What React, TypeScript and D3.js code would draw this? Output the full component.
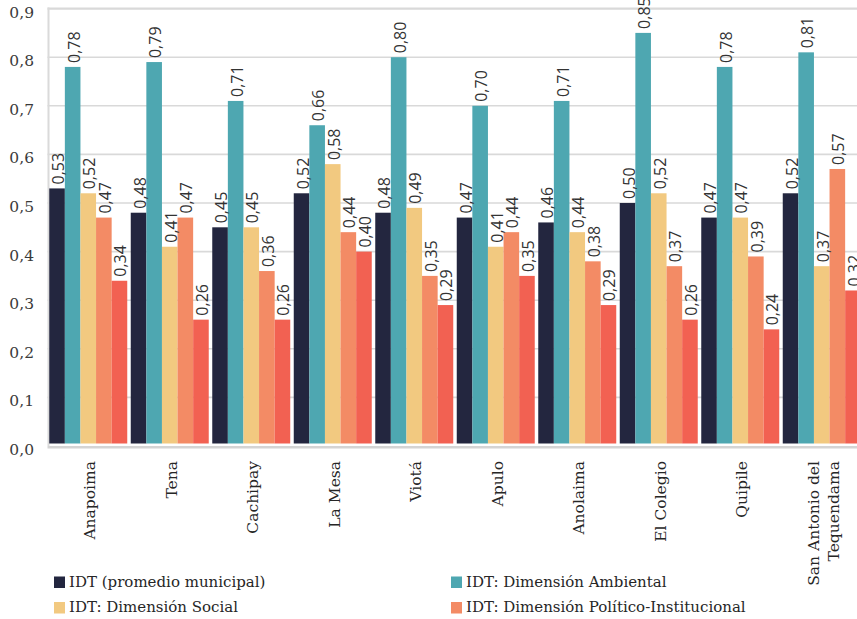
import React from 'react';
import * as d3 from 'd3';

// Municipalities (category axis) and their tick-label lines
const municipios = [
  'Anapoima', 'Tena', 'Cachipay', 'La Mesa', 'Viotá',
  'Apulo', 'Anolaima', 'El Colegio', 'Quipile', 'San Antonio del Tequendama',
];
const municipioLines: string[][] = [
  ['Anapoima'], ['Tena'], ['Cachipay'], ['La Mesa'], ['Viotá'],
  ['Apulo'], ['Anolaima'], ['El Colegio'], ['Quipile'], ['San Antonio del', 'Tequendama'],
];

// Series values
const idtPromedio = [0.53, 0.48, 0.45, 0.52, 0.48, 0.47, 0.46, 0.50, 0.47, 0.52];
const dimAmbiental = [0.78, 0.79, 0.71, 0.66, 0.80, 0.70, 0.71, 0.85, 0.78, 0.81];
const dimSocial = [0.52, 0.41, 0.45, 0.58, 0.49, 0.41, 0.44, 0.52, 0.47, 0.37];
const dimPolitica = [0.47, 0.47, 0.36, 0.44, 0.35, 0.44, 0.38, 0.37, 0.39, 0.57];
const dimEconomica = [0.34, 0.26, 0.26, 0.40, 0.29, 0.35, 0.29, 0.26, 0.24, 0.32];

const seriesNames = [
  'IDT (promedio municipal)',
  'IDT: Dimensión Ambiental',
  'IDT: Dimensión Social',
  'IDT: Dimensión Político-Institucional',
  'IDT: Dimensión Económica',
];
const seriesColors = ['#23263f', '#4ea7b1', '#f2c980', '#f38b65', '#f26152'];
const seriesValues = [idtPromedio, dimAmbiental, dimSocial, dimPolitica, dimEconomica];

// Legend shows the first four series in two columns
const legendSeries = [0, 1, 2, 3];

const yTicks = [0, 0.1, 0.2, 0.3, 0.4, 0.5, 0.6, 0.7, 0.8, 0.9];

const W = 857;
const H = 619;

const serif = '"DejaVu Serif", serif';
const sans = '"Open Sans", "Noto Sans", sans-serif';

export default function App() {
  const plotLeft = 47.5;
  const plotRight = plotLeft + 815;
  const plotTop = 8.6;
  const plotBottom = 446;

  const x = d3
    .scaleBand<string>()
    .domain(municipios)
    .range([plotLeft, plotRight])
    .paddingInner(0.043)
    .paddingOuter(0.0215);

  const xs = d3
    .scaleBand<number>()
    .domain(d3.range(seriesNames.length))
    .range([0, x.bandwidth()]);

  const y = d3.scaleLinear().domain([0, 0.9]).range([plotBottom, plotTop]);

  const fmt = (v: number, p: number) => d3.format(`.${p}f`)(v).replace('.', ',');

  return (
    <svg
      width={W}
      height={H}
      style={{ position: 'absolute', left: 0, top: 0, background: '#fff' }}
    >
      {/* horizontal gridlines */}
      {yTicks.slice(1).map((t) => (
        <line
          key={t}
          x1={plotLeft}
          x2={W}
          y1={y(t)}
          y2={y(t)}
          stroke="#d9d9d9"
          strokeWidth={t === 0.9 ? 2.2 : 1.6}
        />
      ))}
      {/* left frame line */}
      <line x1={plotLeft + 1} x2={plotLeft + 1} y1={y(0.9) - 1} y2={y(0)} stroke="#dadada" strokeWidth={2} />

      {/* y tick labels */}
      {yTicks.map((t) => (
        <text
          key={t}
          x={34}
          y={y(t) + 5}
          textAnchor="end"
          dominantBaseline="middle"
          fontFamily={serif}
          fontSize={15.5}
          fill="#3a3a3a"
        >
          {fmt(t, 1)}
        </text>
      ))}

      {/* bars */}
      {municipios.map((m, i) => (
        <g key={m} transform={`translate(${x(m)},0)`}>
          {seriesValues.map((vals, s) => (
            <rect
              key={s}
              x={xs(s)}
              y={y(vals[i])}
              width={xs.bandwidth()}
              height={y(0) - 2.5 - y(vals[i])}
              fill={seriesColors[s]}
            />
          ))}
        </g>
      ))}

      {/* x axis line */}
      <line x1={plotLeft} x2={W} y1={y(0) + 1.2} y2={y(0) + 1.2} stroke="#d4d4d4" strokeWidth={2.6} />

      {/* value labels */}
      {municipios.map((m, i) => (
        <g key={m} transform={`translate(${x(m)},0)`}>
          {seriesValues.map((vals, s) => {
            const cx = (xs(s) as number) + xs.bandwidth() / 2;
            const ty = y(vals[i]) - 4;
            return (
              <text
                key={s}
                transform={`translate(${cx},${ty}) rotate(-90)`}
                dy="0.44em"
                textAnchor="start"
                fontFamily={sans}
                fontSize={16}
                fill="#333"
              >
                {fmt(vals[i], 2)}
              </text>
            );
          })}
        </g>
      ))}

      {/* category labels */}
      {municipios.map((m, i) => {
        const lines = municipioLines[i];
        const cx = (x(m) as number) + x.bandwidth() / 2;
        return (
          <text
            key={m}
            transform={`translate(${cx},461) rotate(-90)`}
            textAnchor="end"
            fontFamily={serif}
            fontSize={15.5}
            fill="#262626"
          >
            {lines.map((ln, k) => (
              <tspan key={k} x={0} y={7 + (k - (lines.length - 1) / 2) * 19.5}>
                {ln}
              </tspan>
            ))}
          </text>
        );
      })}

      {/* legend */}
      {legendSeries.map((s, k) => {
        const col = k % 2;
        const row = Math.floor(k / 2);
        const lx = col === 0 ? 54 : 451;
        const ly = 576.5 + row * 25.5;
        return (
          <g key={s} transform={`translate(${lx},${ly})`}>
            <rect x={0} y={0} width={11} height={11.5} fill={seriesColors[s]} />
            <text
              x={15}
              y={6}
              dominantBaseline="middle"
              fontFamily={serif}
              fontSize={15}
              fill="#262626"
            >
              {seriesNames[s]}
            </text>
          </g>
        );
      })}
    </svg>
  );
}
